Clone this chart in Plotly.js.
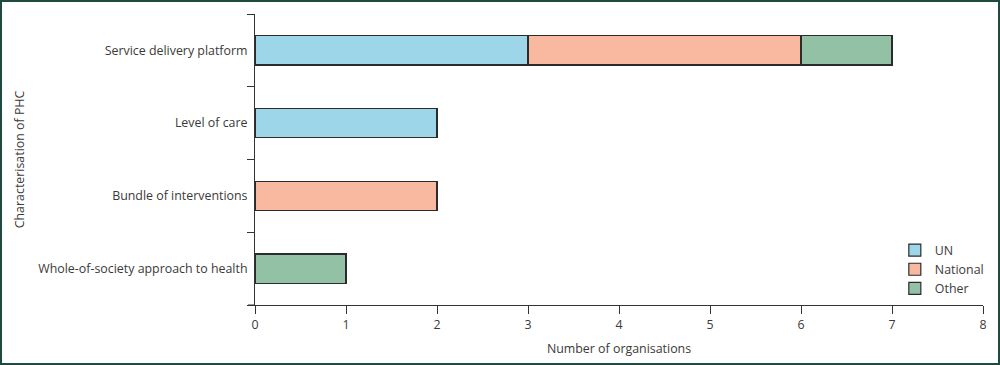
<!DOCTYPE html>
<html>
<head>
<meta charset="utf-8">
<script src="https://cdn.plot.ly/plotly-3.0.1.min.js"></script>
<style>
html,body{margin:0;padding:0;background:#fff;}
#wrap{position:relative;width:1000px;height:365px;}
#chart{width:1000px;height:365px;}
#frame{position:absolute;left:0;top:0;width:1000px;height:365px;box-sizing:border-box;border:2px solid #1f4a40;pointer-events:none;}
</style>
</head>
<body>
<div id="wrap"><div id="chart"></div><div id="frame"></div></div>
<script>
const categories = ["Service delivery platform", "Level of care", "Bundle of interventions", "Whole-of-society approach to health"];
const seriesNames = ["UN", "National", "Other"];
const unValues = [3, 2, null, null];
const nationalValues = [3, null, 2, null];
const otherValues = [1, null, null, 1];
const xTicks = [0, 1, 2, 3, 4, 5, 6, 7, 8];

const colors = ["#9dd6e8", "#f9b9a0", "#92c1a6"];
const values = [unValues, nationalValues, otherValues];
const font = {family: "Open Sans, Noto Sans, sans-serif", size: 12.4, color: "#3a3a3a"};

const traces = seriesNames.map((name, i) => ({
  type: "bar",
  orientation: "h",
  name: name,
  y: categories,
  x: values[i],
  width: 0.4,
  marker: {color: colors[i], line: {color: "#2b2b2b", width: 1.2}},
  hoverinfo: "x+y+name"
}));

const layout = {
  width: 1000, height: 365,
  margin: {l: 255, r: 17, t: 14, b: 60, autoexpand: false},
  barmode: "stack",
  paper_bgcolor: "#fff", plot_bgcolor: "#fff",
  font: font,
  showlegend: true,
  legend: {x: 1.008, xanchor: "right", y: 0.005, yanchor: "bottom", traceorder: "normal",
           bgcolor: "rgba(255,255,255,0)", font: font, itemwidth: 30, tracegroupgap: 0},
  xaxis: {
    range: [0, 8], tickmode: "array", tickvals: xTicks,
    showgrid: false, zeroline: false, showline: true, linecolor: "#333", linewidth: 1,
    ticks: "outside", ticklen: 8, tickcolor: "#333", tickwidth: 1,
    tickfont: font,
    title: {text: "Number of organisations", font: font, standoff: 12}
  },
  yaxis: {
    type: "category", categoryorder: "array", categoryarray: categories.slice().reverse(),
    range: [-0.5, 3.5], tickson: "boundaries",
    showgrid: false, zeroline: false, showline: true, linecolor: "#333", linewidth: 1,
    ticks: "outside", ticklen: 7, tickcolor: "#333", tickwidth: 1,
    ticklabelstandoff: 4,
    tickfont: font,
    title: {text: "Characterisation of PHC", font: font, standoff: 10}
  },
  shapes: [{type: "line", xref: "paper", yref: "paper", x0: -7/728, x1: 0, y0: 0, y1: 0,
            line: {color: "#333", width: 1}}]
};

Plotly.newPlot("chart", traces, layout, {displayModeBar: false, staticPlot: true});
</script>
</body>
</html>
